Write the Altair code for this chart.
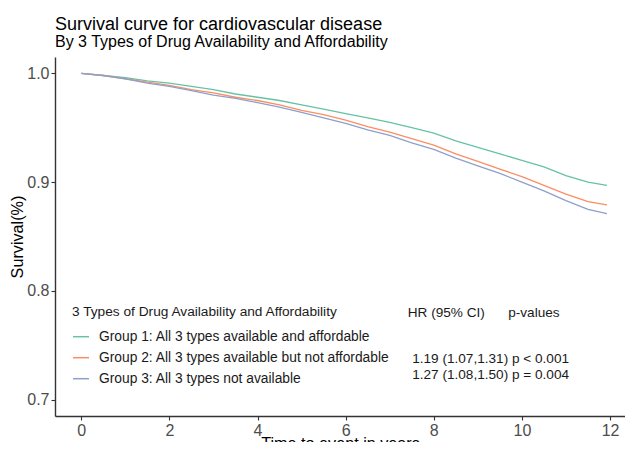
import altair as alt
import pandas as pd

# time points (years)
times = [0, 0.5, 1, 1.5, 2, 2.5, 3, 3.5, 4, 4.5, 5, 5.5, 6, 6.5, 7, 7.5, 8,
         8.5, 9, 9.5, 10, 10.5, 11, 11.5, 11.93]
group1 = [1.000, 0.998, 0.996, 0.993, 0.991, 0.988, 0.985, 0.981, 0.978, 0.975,
          0.971, 0.967, 0.963, 0.959, 0.955, 0.950, 0.945, 0.938, 0.932, 0.926,
          0.920, 0.914, 0.906, 0.900, 0.897]
group2 = [1.000, 0.998, 0.995, 0.992, 0.989, 0.985, 0.982, 0.978, 0.975, 0.971,
          0.966, 0.962, 0.957, 0.951, 0.946, 0.940, 0.934, 0.926, 0.919, 0.912,
          0.905, 0.897, 0.889, 0.882, 0.879]
group3 = [1.000, 0.998, 0.995, 0.991, 0.988, 0.984, 0.980, 0.977, 0.973, 0.969,
          0.964, 0.959, 0.954, 0.948, 0.943, 0.936, 0.930, 0.922, 0.915, 0.908,
          0.900, 0.892, 0.883, 0.875, 0.871]
group_names = [
    "Group 1: All 3 types available and affordable",
    "Group 2: All 3 types available but not affordable",
    "Group 3: All 3 types not available",
]
colors = ["#66C2A5", "#FC8D62", "#8DA0CB"]

# annotation texts
ann_text = ["HR (95% CI)", "p-values", "1.19 (1.07,1.31) p < 0.001", "1.27 (1.08,1.50) p = 0.004"]
ann_x = [7.41, 9.69, 7.51, 7.51]
ann_y = [0.7756, 0.7756, 0.7341, 0.7193]

rows = []
for name, vals in zip(group_names, [group1, group2, group3]):
    for t, v in zip(times, vals):
        rows.append({"time": t, "surv": v, "group": name})
df = pd.DataFrame(rows)
ann = pd.DataFrame({"text": ann_text, "x": ann_x, "y": ann_y})

FONT = "Liberation Sans"

xscale = alt.Scale(domain=[-0.596, 12.34], nice=False, zero=False)
yscale = alt.Scale(domain=[0.685, 1.015], nice=False, zero=False)

lines = alt.Chart(df).mark_line(strokeWidth=1.3).encode(
    x=alt.X("time:Q", scale=xscale, title="Time to event in years",
            axis=alt.Axis(values=[0, 2, 4, 6, 8, 10, 12], grid=False, format="d")),
    y=alt.Y("surv:Q", scale=yscale, title="Survival(%)",
            axis=alt.Axis(values=[0.7, 0.8, 0.9, 1.0], grid=False, format=".1f")),
    color=alt.Color("group:N", scale=alt.Scale(domain=group_names, range=colors),
                    legend=alt.Legend(
                        title="3 Types of Drug Availability and Affordability",
                        orient="none", legendX=17, legendY=248,
                        symbolType="stroke", symbolSize=256, symbolStrokeWidth=1.5,
                        labelFontSize=13.8, titleFontSize=13.7, titleFontWeight="normal",
                        labelFont=FONT, titleFont=FONT, labelColor="#1a1a1a", titleColor="#1a1a1a",
                        rowPadding=5, titlePadding=9, labelOffset=9, padding=0,
                        labelLimit=400, titleLimit=400)),
)

texts = alt.Chart(ann).mark_text(align="left", baseline="alphabetic", fontSize=13.6,
                                 font=FONT, color="#1a1a1a").encode(
    x=alt.X("x:Q", scale=xscale),
    y=alt.Y("y:Q", scale=yscale),
    text="text:N",
)

chart = (lines + texts).properties(
    width=570, height=359,
    title=alt.TitleParams(
        text="Survival curve for cardiovascular disease",
        subtitle="By 3 Types of Drug Availability and Affordability",
        anchor="start", frame="group", fontSize=18, subtitleFontSize=16,
        font=FONT, subtitleFont=FONT, fontWeight="normal", color="#000000",
        subtitleColor="#000000", subtitlePadding=0, offset=7.5,
    ),
    autosize=alt.AutoSizeParams(type="none"),
    padding={"left": 47, "top": 49, "right": 0, "bottom": 26},
).configure_view(stroke=None).configure_axis(
    domainColor="#333333", domainWidth=1.4, tickColor="#333333", tickWidth=1.1,
    tickSize=4, labelFontSize=16, labelColor="#4d4d4d", labelFont=FONT,
    titleFont=FONT, titleFontSize=16.2, titleFontWeight="normal", titleColor="#000000",
    labelPadding=2,
).configure_axisX(titlePadding=-3).configure_axisY(titlePadding=1)

chart.save("out.html", embed_options={"renderer": "svg", "actions": False})
